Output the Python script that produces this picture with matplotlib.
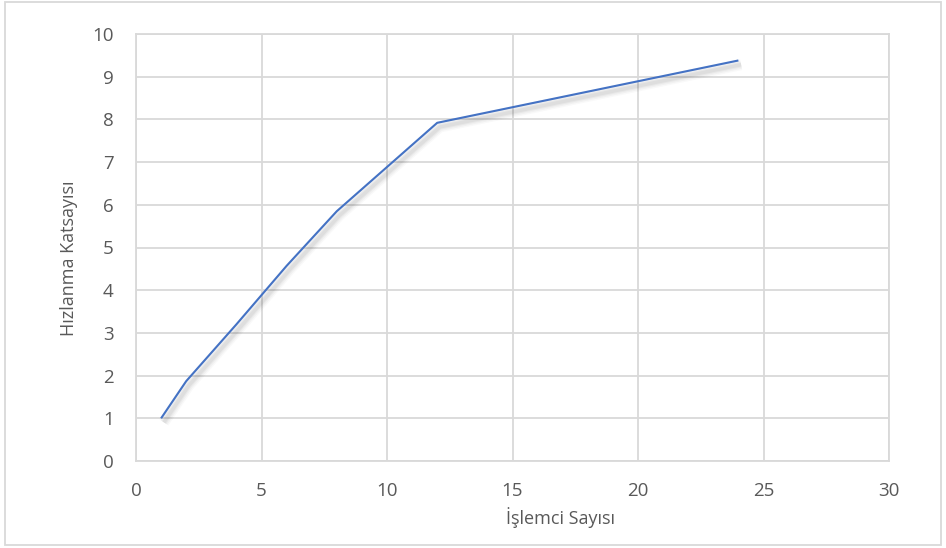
import matplotlib
matplotlib.use("Agg")
import matplotlib.pyplot as plt
import matplotlib.patheffects as pe
from matplotlib.patches import Rectangle

# Speedup vs. processor count
processors = [1, 2, 4, 6, 8, 12, 24]
speedup = [1.0, 1.87, 3.2, 4.57, 5.85, 7.92, 9.38]

x_ticks = [0, 5, 10, 15, 20, 25, 30]
y_ticks = [0, 1, 2, 3, 4, 5, 6, 7, 8, 9, 10]

plt.rcParams['font.family'] = ['Open Sans', 'DejaVu Sans']

W, H = 946, 548
fig = plt.figure(figsize=(W / 100, H / 100), dpi=100)
ax = fig.add_axes([136 / W, 1 - 461 / H, (889 - 136) / W, (461 - 34) / H])

grid_c = '#d9d9d9'
text_c = '#595959'

ax.set_xlim(0, 30)
ax.set_ylim(0, 10)
ax.set_xticks(x_ticks)
ax.set_yticks(y_ticks)
ax.grid(True, color=grid_c, linewidth=1.3)
ax.set_axisbelow(True)
for s in ax.spines.values():
    s.set_color(grid_c)
    s.set_linewidth(1.3)
ax.tick_params(length=0, labelsize=13.5, labelcolor=text_c)
ax.tick_params(axis='x', pad=15)
ax.tick_params(axis='y', pad=16)

shadow = [pe.SimpleLineShadow(offset=(2.0, -3.0), shadow_color='#000000',
                              alpha=a, linewidth=w)
          for a, w in [(0.025, 8), (0.03, 6), (0.035, 4), (0.04, 2.5)]]
ax.plot(processors, speedup, color='#4472C4', linewidth=1.5,
        solid_capstyle='butt',
        path_effects=shadow + [pe.Normal()])

fig.text(560 / W, 1 - 518 / H, 'İşlemci Sayısı', ha='center', va='center',
         fontsize=13, color=text_c)
fig.text(69 / W, 1 - 258 / H, 'Hızlanma Katsayısı', ha='center', va='center',
         rotation=90, fontsize=13, color=text_c)

fig.patches.append(Rectangle((5 / W, 1 - 545 / H), 936 / W, 543 / H,
                             transform=fig.transFigure, fill=False,
                             edgecolor='#d9d9d9', linewidth=1.3))

fig.savefig('out.png', dpi=100, facecolor='white')
